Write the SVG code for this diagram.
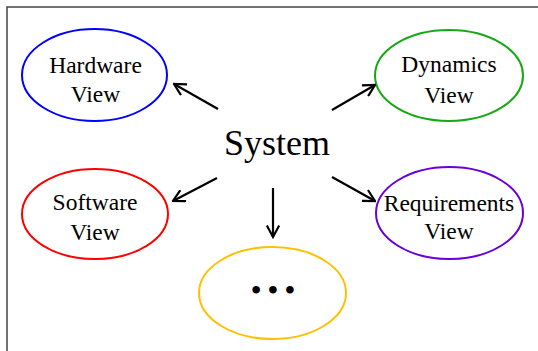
<svg xmlns="http://www.w3.org/2000/svg" width="538" height="351" viewBox="0 0 538 351">
  <defs>
    <style>
      .view { fill: #ffffff; stroke-width: 2; }
      .lbl { font-family: "Liberation Serif", "Times New Roman", serif; font-size: 23.5px; fill: #000; text-anchor: middle; }
      .sys { font-family: "Liberation Serif", "Times New Roman", serif; font-size: 36px; fill: #000; text-anchor: middle; }
      .edge { stroke: #000; stroke-width: 2.2; fill: none; marker-end: url(#open-arrow); }
    </style>
    <marker id="open-arrow" viewBox="0 0 14 14" refX="12.5" refY="7" markerWidth="14" markerHeight="14" markerUnits="userSpaceOnUse" orient="auto">
      <path d="M1,0.8 L12.5,7 L1,13.2" fill="none" stroke="#000" stroke-width="2.2" stroke-linejoin="miter"/>
    </marker>
  </defs>

  <rect width="538" height="351" fill="#ffffff"/>
  <!-- frame: top and left edges only -->
  <path d="M7,351 V7 H538" fill="none" stroke="#444444" stroke-width="1.5"/>

  <g id="system">
    <text class="sys" x="277" y="155">System</text>
  </g>

  <g id="hardware-view">
    <ellipse class="view" cx="94.5" cy="75" rx="72.5" ry="46" stroke="#0000ff"/>
    <text class="lbl" x="95.5" y="73">Hardware</text>
    <text class="lbl" x="95.5" y="102">View</text>
  </g>

  <g id="dynamics-view">
    <ellipse class="view" cx="449" cy="75.5" rx="74" ry="45.5" stroke="#16a816"/>
    <text class="lbl" x="449" y="72">Dynamics</text>
    <text class="lbl" x="449" y="103">View</text>
  </g>

  <g id="software-view">
    <ellipse class="view" cx="95" cy="214" rx="73" ry="45" stroke="#ff0000"/>
    <text class="lbl" x="95" y="210">Software</text>
    <text class="lbl" x="95" y="240">View</text>
  </g>

  <g id="requirements-view">
    <ellipse class="view" cx="449.5" cy="213" rx="73.5" ry="46" stroke="#6a00d8"/>
    <text class="lbl" x="449" y="211">Requirements</text>
    <text class="lbl" x="449" y="239">View</text>
  </g>

  <g id="more-views">
    <ellipse class="view" cx="272.5" cy="293" rx="73.5" ry="46" stroke="#ffc000"/>
    <text class="lbl" x="273" y="299" style="font-size:28px;font-weight:bold">• • •</text>
  </g>

  <g id="connectors">
    <line class="edge" x1="218" y1="109" x2="174" y2="84"/>
    <line class="edge" x1="332" y1="110" x2="375" y2="85"/>
    <line class="edge" x1="217" y1="178" x2="173" y2="201"/>
    <line class="edge" x1="332" y1="177" x2="375" y2="201"/>
    <line class="edge" x1="273" y1="188" x2="273" y2="237"/>
  </g>
</svg>
